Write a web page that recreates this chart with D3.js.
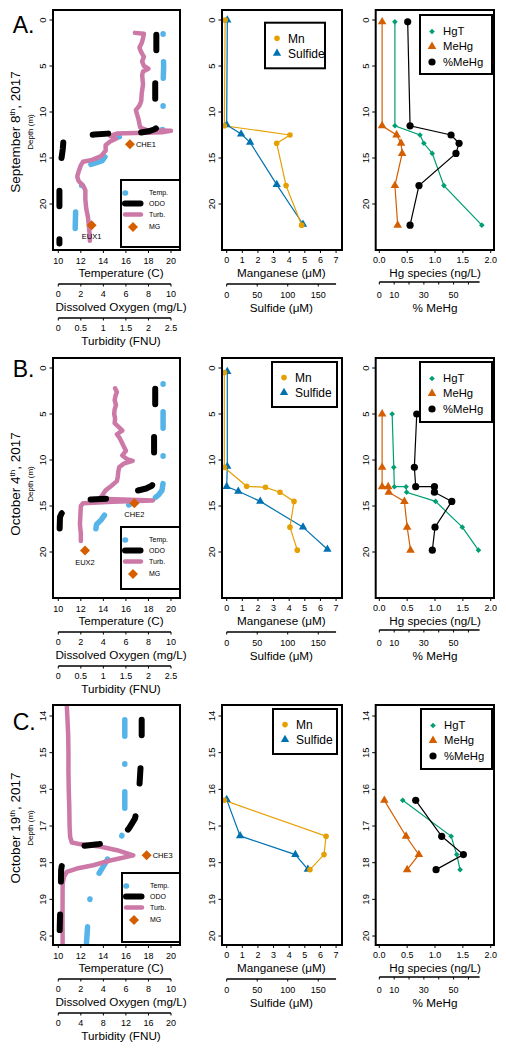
<!DOCTYPE html>
<html>
<head>
<meta charset="utf-8">
<script src="https://d3js.org/d3.v7.min.js"></script>
<style>
html,body{margin:0;padding:0;background:#fff;}
svg{display:block;}
text{font-family:"Liberation Sans",Arial,Helvetica,sans-serif;fill:#000;}
</style>
</head>
<body>
<svg id="chart" width="506" height="1050"></svg>
<script>
// ===== ticks / labels =====
const depthTicksAB = [0, 5, 10, 15, 20];
const depthTicksC = [14, 15, 16, 17, 18, 19, 20];
const tempTicks = [10, 12, 14, 16, 18, 20];
const doTicks = [0, 2, 4, 6, 8, 10];
const turbTicksAB = [0, 0.5, 1, 1.5, 2, 2.5];
const turbTicksC = [0, 4, 8, 12, 16, 20];
const mnTicks = [0, 1, 2, 3, 4, 5, 6, 7];
const sulfideTicks = [0, 50, 100, 150];
const hgTicks = [0, 0.5, 1, 1.5, 2];
const pctTicks = [0, 10, 30, 50];
const panelLetters = ["A.", "B.", "C."];
const dateDay = ["September 8", "October 4", "October 19"];
const profileLegend = ["Temp.", "ODO", "Turb.", "MG"];
const chemLegend = ["Mn", "Sulfide"];
const hgLegend = ["HgT", "MeHg", "%MeHg"];

// ===== CTD profiles: [depth (m), value] =====
const tempA = [[1.5,19.3],[3,19.3],[5,19.35],[7,19.3],[9,19.3],[11,19.3],[11.5,19.35],[11.8,19.6],[12.0,19.0],[12.15,17.8],[12.3,16.6],[12.5,15.9],[13.0,14.6],[14.0,14.4],[14.6,14.3],[15.3,13.9],[15.5,13.4],[15.8,12.6],[16.3,12.3],[16.8,12.6],[17.3,12.15],[17.75,12.1],[18.5,12.0],[19.5,11.7],[20.3,11.55],[22.6,11.5],[24.0,11.5]];
const odoA = [[1.6,8.7],[4,8.7],[7,8.6],[9,8.6],[11.0,8.7],[11.3,9.0],[11.6,8.9],[11.9,8.5],[12.1,8.0],[12.25,7.2],[12.3,6.0],[12.35,4.4],[12.45,3.2],[12.6,1.5],[12.8,0.6],[13.2,0.45],[14,0.4],[14.9,0.3],[16,0.15],[18,0.1],[20.3,0.1],[24.3,0.1]];
const turbA = [[1.4,1.70],[1.5,1.90],[2.0,1.88],[2.5,1.85],[3.0,1.80],[3.5,1.84],[4.0,1.90],[4.5,1.86],[5.0,1.90],[5.3,2.00],[5.6,1.88],[6.0,1.86],[7.0,1.88],[8.0,1.85],[8.8,1.84],[9.3,1.80],[9.8,1.72],[10.3,1.75],[10.8,1.78],[11.3,1.80],[11.7,1.82],[11.95,1.95],[12.05,2.5],[12.2,2.3],[12.35,1.3],[12.6,1.15],[12.9,1.28],[13.2,1.15],[13.6,1.05],[14.2,1.05],[14.8,0.95],[15.2,0.75],[15.4,0.55],[15.8,0.5],[16.5,0.45],[17.0,0.42],[17.5,0.45],[18.0,0.55],[18.5,0.6],[19.5,0.6],[20.5,0.62],[21.5,0.66],[22.5,0.68],[23.5,0.7],[24.0,0.7]];
const mgA = [[13.5,16.36,"CHE1"],[22.3,12.96,"EUX1"]];

const tempB = [[1.7,19.3],[4,19.3],[7,19.3],[10.5,19.3],[12.5,19.3],[13.3,19.2],[13.8,18.9],[14.2,18.5],[14.45,18.0],[14.7,17.0],[14.9,16.2],[15.2,15.0],[15.6,14.3],[16.0,14.1],[16.5,13.8],[17.0,13.4],[18.5,13.2],[19.0,13.2]];
const odoB = [[1.7,8.6],[4,8.6],[7.2,8.5],[9.5,8.5],[12.4,8.5],[12.8,8.3],[13.1,7.8],[13.4,6.8],[13.7,5.7],[14.0,5.0],[14.2,4.4],[14.3,2.6],[14.6,1.6],[15.2,0.8],[15.8,0.3],[16.2,0.15],[18.3,0.1],[19,0.1]];
const turbB = [[2.2,1.26],[2.6,1.30],[3.0,1.27],[3.5,1.25],[4.0,1.28],[4.5,1.25],[5.0,1.24],[5.5,1.26],[6.0,1.25],[6.5,1.36],[6.8,1.42],[7.2,1.30],[7.6,1.36],[8.0,1.40],[8.5,1.45],[9.0,1.50],[9.5,1.42],[9.9,1.52],[10.1,1.65],[10.4,1.45],[10.8,1.35],[11.3,1.33],[11.8,1.32],[12.3,1.30],[12.8,1.18],[13.3,1.05],[13.8,0.98],[14.2,0.92],[14.4,2.1],[14.55,1.2],[14.7,0.55],[15.0,0.5],[16,0.49],[17,0.48],[18,0.5],[18.8,0.5]];
const mgB = [[14.7,16.75,"CHE2"],[19.85,12.37,"EUX2"]];

const tempC = [[14.1,15.9],[15,15.9],[16,15.9],[16.8,15.9],[17.1,15.8],[17.3,15.6],[17.45,15.4],[17.6,15.0],[17.8,14.5],[17.95,14.3],[18.1,14.0],[18.3,13.6],[18.45,13.4],[18.7,13.0],[19.0,12.8],[19.5,12.65],[20.2,12.5]];
const odoC = [[14.1,7.4],[14.7,7.4],[15.4,7.3],[15.9,7.2],[16.4,7.1],[16.8,6.8],[17.05,6.3],[17.25,5.8],[17.4,5.2],[17.5,3.5],[17.55,2.0],[17.65,1.2],[17.85,0.6],[18.1,0.3],[18.2,0.25],[18.8,0.22],[19.6,0.14],[19.9,0.12],[20.2,0.1]];
const turbC = [[13.7,1.5],[14.0,1.6],[14.5,1.75],[15.0,1.8],[15.5,1.8],[16.0,1.85],[16.5,1.95],[17.0,2.0],[17.3,2.1],[17.45,2.4],[17.5,4.0],[17.56,7.4],[17.66,10.4],[17.8,13.3],[17.94,9.2],[18.07,6.2],[18.16,3.3],[18.25,1.5],[18.39,1.0],[18.57,0.77],[19.5,0.75],[20.25,0.77]];
const mgC = [[17.8,17.84,"CHE3"]];

// ===== Mn & sulfide (uM) =====
const mnDepthA = [0, 11.5, 12.5, 13.4, 18.0, 22.3];
const mnA = [-0.1, -0.15, 4.05, 3.2, 3.8, 4.8];
const sulfideDepthA = [0, 11.4, 12.4, 13.3, 17.9, 22.2];
const sulfideA = [1, 0, 23.6, 38.4, 82, 125];
const mnDepthB = [0.5, 10.8, 12.86, 12.97, 13.5, 14.5, 17.3, 19.8];
const mnB = [-0.15, -0.15, 1.28, 2.48, 3.41, 4.31, 4.05, 4.52];
const sulfideDepthB = [0.4, 10.7, 12.9, 13.4, 14.5, 17.3, 19.7];
const sulfideB = [1, 1, 0, 19, 55, 125, 165];
const mnDepthC = [16.3, 17.28, 17.78, 18.19];
const mnC = [-0.15, 6.36, 6.23, 5.33];
const sulfideDepthC = [16.28, 17.27, 17.78, 18.18];
const sulfideC = [0, 22, 112.5, 133];

// ===== Hg species (ng/L) and %MeHg =====
const hgDepthA = [0.2, 11.5, 12.5, 13.4, 14.5, 18.0, 22.3];
const hgtA = [0.28, 0.28, 0.73, 0.80, 0.95, 1.16, 1.84];
const mehgA = [0.05, 0.05, 0.31, 0.39, 0.41, 0.28, 0.33];
const pctMehgA = [19.1, 20.7, 48.3, 53.7, 51.6, 26.7, 20.7];
const hgDepthB = [5.0, 10.8, 12.9, 12.9, 13.5, 14.5, 17.3, 19.8];
const hgtB = [0.23, 0.26, 0.27, 0.48, 0.49, 1.01, 1.49, 1.78];
const mehgB = [0.05, 0.05, 0.05, 0.16, 0.17, 0.45, 0.50, 0.56];
const pctMehgB = [25.2, 23.6, 24.5, 37.1, 37.1, 48.8, 37.5, 35.7];
const hgDepthC = [16.3, 17.28, 17.78, 18.19];
const hgtC = [0.42, 1.29, 1.39, 1.45];
const mehgC = [0.09, 0.48, 0.71, 0.50];
const pctMehgC = [24.5, 42.0, 56.6, 38.2];

// ===== colours =====
const C_TEMP = "#56B4E9", C_ODO = "#000000", C_TURB = "#CC79A7", C_MG = "#D55E00";
const C_MN = "#E69F00", C_SULF = "#0072B2", C_HGT = "#009E73", C_MEHG = "#D55E00", C_PCT = "#000000";

// ===== layout =====
const svg = d3.select("#chart");
const colL = [53, 180], colM = [222, 342], colR = [375.7, 494];
const rows = [
  {top:10, bottom:250, yDomain:[-1.087,25], dTicks:depthTicksAB, turbTicks:turbTicksAB, turbMax:2.5, letterY:33.3, labelCY:132,
   temp:tempA, odo:odoA, turb:turbA, mg:mgA, mgPos:["right","below"], pLeg:[121,180,59,67], tOff:0, oOff:0,
   mnD:mnDepthA, mn:mnA, sD:sulfideDepthA, s:sulfideA, cLeg:[265,22.7,60,45.6],
   hgD:hgDepthA, hgt:hgtA, mehg:mehgA, pct:pctMehgA, hLeg:[420,15,72,59]},
  {top:358, bottom:598, yDomain:[-1.087,25], dTicks:depthTicksAB, turbTicks:turbTicksAB, turbMax:2.5, letterY:376.7, labelCY:484,
   temp:tempB, odo:odoB, turb:turbB, mg:mgB, mgPos:["below","below"], pLeg:[121,527,59,62], tOff:0, oOff:-5,
   mnD:mnDepthB, mn:mnB, sD:sulfideDepthB, s:sulfideB, cLeg:[272,362,65,45],
   hgD:hgDepthB, hgt:hgtB, mehg:mehgB, pct:pctMehgB, hLeg:[420,362,72,60]},
  {top:705, bottom:945, yDomain:[13.7,20.245], dTicks:depthTicksC, turbTicks:turbTicksC, turbMax:20, letterY:730, labelCY:828,
   temp:tempC, odo:odoC, turb:turbC, mg:mgC, mgPos:["right"], pLeg:[122,873,58,69], tOff:28, oOff:0,
   mnD:mnDepthC, mn:mnC, sD:sulfideDepthC, s:sulfideC, cLeg:[273,709,64,45],
   hgD:hgDepthC, hgt:hgtC, mehg:mehgC, pct:pctMehgC, hLeg:[421,709,71,60]}
];

const xT = d3.scaleLinear().domain([9.53, 20.8]).range(colL);
const xDO = d3.scaleLinear().domain([0, 10]).range([xT(10), xT(20)]);
const xMn = d3.scaleLinear().domain([-0.3, 7.38]).range(colM);
const xSulf = d3.scaleLinear().domain([0, 179.2]).range([xMn(0), xMn(7)]);
const xHg = d3.scaleLinear().domain([-0.065, 2.059]).range(colR);
const xPct = d3.scaleLinear().domain([0, 75]).range([xHg(0), xHg(2)]);

const TICKF = 9, TITLEF = 11.7;

function txt(g, x, y, s, size, anchor) {
  return g.append("text").attr("x", x).attr("y", y).attr("dy", "0.35em")
    .attr("text-anchor", anchor || "middle").style("font-size", size + "px").text(s);
}
function frame(g, c, r) {
  g.append("rect").attr("x", c[0]).attr("y", r.top).attr("width", c[1]-c[0]).attr("height", r.bottom-r.top)
   .attr("fill", "none").attr("stroke", "#000").attr("stroke-width", 2);
}
function yAxis(g, c, y, ticks) {
  ticks.forEach(t => {
    g.append("line").attr("x1", c[0]).attr("x2", c[0]-3.5).attr("y1", y(t)).attr("y2", y(t)).attr("stroke", "#000").attr("stroke-width", 1);
    g.append("text").attr("transform", `translate(${c[0]-10.5},${y(t)}) rotate(-90)`).attr("dy", "0.35em")
     .attr("text-anchor", "middle").style("font-size", "9.5px").text(t);
  });
}
function xAxis(g, scale, ticks, labels, y0, lineEnd, tickLen, labY) {
  if (lineEnd !== null) g.append("line").attr("x1", scale(ticks[0])).attr("x2", scale(lineEnd)).attr("y1", y0).attr("y2", y0).attr("stroke", "#000").attr("stroke-width", 1.3);
  ticks.forEach((t, i) => {
    g.append("line").attr("x1", scale(t)).attr("x2", scale(t)).attr("y1", y0).attr("y2", y0 + tickLen).attr("stroke", "#000").attr("stroke-width", 1);
    txt(g, scale(t), labY, labels[i], TICKF);
  });
}
function diamond(g, x, y, r, col) {
  g.append("path").attr("d", `M${x},${y-r}L${x+r},${y}L${x},${y+r}L${x-r},${y}Z`).attr("fill", col);
}
function tri(g, x, y, size, col) {
  g.append("path").attr("d", d3.symbol(d3.symbolTriangle, size)()).attr("transform", `translate(${x},${y})`).attr("fill", col);
}
function circ(g, x, y, r, col) {
  g.append("circle").attr("cx", x).attr("cy", y).attr("r", r).attr("fill", col);
}
const TEMP_DASH = "0.5 27.5 16.5 27.5", ODO_DASH = "15.5 33";

rows.forEach((r, i) => {
  const g = svg.append("g");
  const y = d3.scaleLinear().domain(r.yDomain).range([r.top, r.bottom]);
  const xTurb = d3.scaleLinear().domain([0, r.turbMax]).range([xT(10), xT(20)]);
  const b = r.bottom;

  // ---------- left panel: CTD profiles ----------
  const cid = "clip" + i;
  svg.append("clipPath").attr("id", cid).append("rect").attr("x", colL[0]).attr("y", r.top).attr("width", colL[1]-colL[0]).attr("height", r.bottom-r.top);
  const pg = g.append("g").attr("clip-path", `url(#${cid})`);
  const lT = d3.line().x(d => xT(d[1])).y(d => y(d[0]));
  const lO = d3.line().x(d => xDO(d[1])).y(d => y(d[0]));
  const lB = d3.line().x(d => xTurb(d[1])).y(d => y(d[0]));
  pg.append("path").attr("d", lT(r.temp)).attr("fill", "none").attr("stroke", C_TEMP).attr("stroke-width", 5.5)
    .attr("stroke-linecap", "round").attr("stroke-linejoin", "round").attr("stroke-dasharray", TEMP_DASH).attr("stroke-dashoffset", r.tOff);
  pg.append("path").attr("d", lB(r.turb)).attr("fill", "none").attr("stroke", C_TURB).attr("stroke-width", 4.5)
    .attr("stroke-linecap", "round").attr("stroke-linejoin", "round");
  pg.append("path").attr("d", lO(r.odo)).attr("fill", "none").attr("stroke", C_ODO).attr("stroke-width", 6)
    .attr("stroke-linecap", "round").attr("stroke-linejoin", "round").attr("stroke-dasharray", ODO_DASH).attr("stroke-dashoffset", r.oOff);
  r.mg.forEach((m, k) => {
    const mx = xT(m[1]), my = y(m[0]);
    diamond(g, mx, my, 5, C_MG);
    if (r.mgPos[k] === "right") txt(g, mx + 6, my, m[2], 7.5, "start");
    else txt(g, mx, my + 11.5, m[2], 7.5, "middle");
  });
  {
    const [lx, ly, lw, lh] = r.pLeg;
    g.append("rect").attr("x", lx).attr("y", ly).attr("width", lw).attr("height", lh).attr("fill", "#fff").attr("stroke", "#000").attr("stroke-width", 2);
    const ys = [ly+13, ly+23.5, ly+34.5, ly+47];
    g.append("line").attr("x1", lx+4).attr("x2", lx+22).attr("y1", ys[0]).attr("y2", ys[0]).attr("stroke", C_TEMP).attr("stroke-width", 5.5).attr("stroke-linecap", "round").attr("stroke-dasharray", TEMP_DASH);
    g.append("line").attr("x1", lx+4).attr("x2", lx+20).attr("y1", ys[1]).attr("y2", ys[1]).attr("stroke", C_ODO).attr("stroke-width", 6).attr("stroke-linecap", "round").attr("stroke-dasharray", ODO_DASH);
    g.append("line").attr("x1", lx+4).attr("x2", lx+20).attr("y1", ys[2]).attr("y2", ys[2]).attr("stroke", C_TURB).attr("stroke-width", 4.5).attr("stroke-linecap", "round");
    diamond(g, lx+12, ys[3], 5, C_MG);
    profileLegend.forEach((s, k) => txt(g, lx+28, ys[k], s, 7, "start"));
  }
  frame(g, colL, r);
  yAxis(g, colL, y, r.dTicks);
  xAxis(g, xT, tempTicks, tempTicks.map(String), b, null, 3, b + 10.5);
  txt(g, 121, b + 23, "Temperature (C)", TITLEF);
  xAxis(g, xDO, doTicks, doTicks.map(String), b + 34, 10, 2.5, b + 44);
  txt(g, 121, b + 57, "Dissolved Oxygen (mg/L)", TITLEF);
  xAxis(g, xTurb, r.turbTicks, r.turbTicks.map(String), b + 68, r.turbMax, 2.5, b + 78);
  txt(g, 121, b + 91, "Turbidity (FNU)", TITLEF);

  g.append("text").attr("x", 12.7).attr("y", r.letterY).style("font-size", "23px").text(panelLetters[i]);
  g.append("text").attr("transform", `translate(30.5,${r.labelCY}) rotate(-90)`).attr("dy", "0.35em")
    .attr("text-anchor", "middle").style("font-size", "8px").text("Depth (m)");
  const dt = g.append("text").attr("transform", `translate(15,${r.labelCY}) rotate(-90)`).attr("dy", "0.35em")
    .attr("text-anchor", "middle").style("font-size", "13.5px");
  dt.append("tspan").text(dateDay[i]);
  dt.append("tspan").attr("dy", -5).style("font-size", "8px").text("th");
  dt.append("tspan").attr("dy", 5).text(", 2017");

  // ---------- middle panel: Mn & sulfide ----------
  const mnPts = r.mnD.map((d, k) => [d, r.mn[k]]);
  const sPts = r.sD.map((d, k) => [d, r.s[k]]);
  g.append("path").attr("d", d3.line().x(d => xSulf(d[1])).y(d => y(d[0]))(sPts)).attr("fill", "none").attr("stroke", C_SULF).attr("stroke-width", 1.2);
  g.append("path").attr("d", d3.line().x(d => xMn(d[1])).y(d => y(d[0]))(mnPts)).attr("fill", "none").attr("stroke", C_MN).attr("stroke-width", 1.2);
  sPts.forEach(p => tri(g, xSulf(p[1]), y(p[0]), 30, C_SULF));
  mnPts.forEach(p => circ(g, xMn(p[1]), y(p[0]), 2.8, C_MN));
  {
    const [lx, ly, lw, lh] = r.cLeg;
    g.append("rect").attr("x", lx).attr("y", ly).attr("width", lw).attr("height", lh).attr("fill", "#fff").attr("stroke", "#000").attr("stroke-width", 2);
    circ(g, lx+12, ly+15.6, 2.8, C_MN);
    tri(g, lx+12, ly+30.6, 30, C_SULF);
    txt(g, lx+23, ly+15.6, chemLegend[0], 12, "start");
    txt(g, lx+23, ly+30.6, chemLegend[1], 12, "start");
  }
  frame(g, colM, r);
  yAxis(g, colM, y, r.dTicks);
  xAxis(g, xMn, mnTicks, mnTicks.map(String), b, null, 3, b + 9.5);
  txt(g, xMn(3.5), b + 23, "Manganese (\u03BCM)", TITLEF);
  xAxis(g, xSulf, sulfideTicks, sulfideTicks.map(String), b + 34, 179.2, 2.5, b + 45);
  txt(g, xMn(3.5), b + 58, "Sulfide (\u03BCM)", TITLEF);

  // ---------- right panel: Hg species ----------
  const hgtPts = r.hgD.map((d, k) => [d, r.hgt[k]]);
  const mePts = r.hgD.map((d, k) => [d, r.mehg[k]]);
  const pcPts = r.hgD.map((d, k) => [d, r.pct[k]]);
  g.append("path").attr("d", d3.line().x(d => xHg(d[1])).y(d => y(d[0]))(mePts)).attr("fill", "none").attr("stroke", C_MEHG).attr("stroke-width", 1.2);
  g.append("path").attr("d", d3.line().x(d => xHg(d[1])).y(d => y(d[0]))(hgtPts)).attr("fill", "none").attr("stroke", C_HGT).attr("stroke-width", 1.2);
  g.append("path").attr("d", d3.line().x(d => xPct(d[1])).y(d => y(d[0]))(pcPts)).attr("fill", "none").attr("stroke", C_PCT).attr("stroke-width", 1.2);
  mePts.forEach(p => tri(g, xHg(p[1]), y(p[0]), 32, C_MEHG));
  hgtPts.forEach(p => diamond(g, xHg(p[1]), y(p[0]), 2.8, C_HGT));
  pcPts.forEach(p => circ(g, xPct(p[1]), y(p[0]), 3.6, C_PCT));
  {
    const [lx, ly, lw, lh] = r.hLeg;
    g.append("rect").attr("x", lx).attr("y", ly).attr("width", lw).attr("height", lh).attr("fill", "#fff").attr("stroke", "#000").attr("stroke-width", 2);
    diamond(g, lx+12, ly+16.5, 2.8, C_HGT);
    tri(g, lx+12, ly+31.5, 32, C_MEHG);
    circ(g, lx+12, ly+47, 3.6, C_PCT);
    hgLegend.forEach((s, k) => txt(g, lx+23, ly + [16.5, 31.5, 47][k], s, 11.3, "start"));
  }
  frame(g, colR, r);
  yAxis(g, colR, y, r.dTicks);
  xAxis(g, xHg, hgTicks, hgTicks.map(d => d.toFixed(1)), b, null, 3, b + 9.5);
  txt(g, xHg(1), b + 23, "Hg species (ng/L)", TITLEF);
  g.append("line").attr("x1", xPct(0)).attr("x2", xPct(67.5)).attr("y1", b + 32).attr("y2", b + 32).attr("stroke", "#000").attr("stroke-width", 1.3);
  d3.range(0, 61, 10).forEach(t => g.append("line").attr("x1", xPct(t)).attr("x2", xPct(t)).attr("y1", b + 32).attr("y2", b + 34.5).attr("stroke", "#000").attr("stroke-width", 1));
  pctTicks.forEach(t => txt(g, xPct(t), b + 45, String(t), TICKF));
  txt(g, xHg(1), b + 58, "% MeHg", TITLEF);
});
</script>
</body>
</html>
